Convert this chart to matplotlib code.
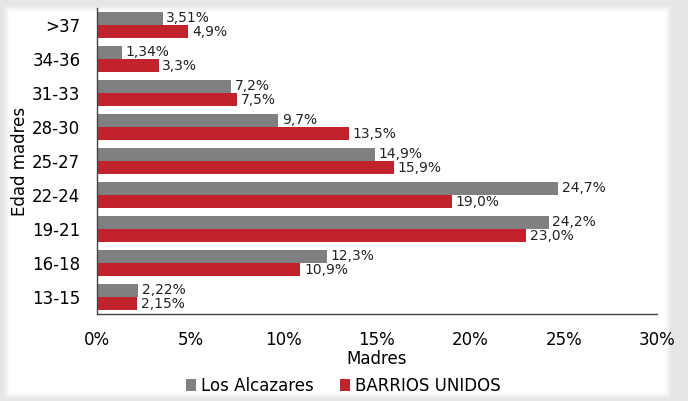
import numpy as np
import matplotlib
matplotlib.use("Agg")
import matplotlib.pyplot as plt
from matplotlib.patches import Rectangle
from matplotlib.ticker import FuncFormatter

# --- data (top to bottom as shown) ---
age_groups = [">37", "34-36", "31-33", "28-30", "25-27", "22-24", "19-21", "16-18", "13-15"]
alcazares = [3.51, 1.34, 7.2, 9.7, 14.9, 24.7, 24.2, 12.3, 2.22]
barrios = [4.9, 3.3, 7.5, 13.5, 15.9, 19.0, 23.0, 10.9, 2.15]
alcazares_txt = ["3,51%", "1,34%", "7,2%", "9,7%", "14,9%", "24,7%", "24,2%", "12,3%", "2,22%"]
barrios_txt = ["4,9%", "3,3%", "7,5%", "13,5%", "15,9%", "19,0%", "23,0%", "10,9%", "2,15%"]

GRAY = "#808083"
RED = "#c0232c"

plt.rcParams["font.family"] = ["DejaVu Sans"]

fig = plt.figure(figsize=(6.88, 4.01), dpi=100)
fig.patch.set_facecolor("#e6e6e6")

# white panel with a soft shadow edge, in its own background axes
W, H = 688, 401
bg = fig.add_axes([0, 0, 1, 1], zorder=0)
bg.set_xlim(0, W)
bg.set_ylim(H, 0)
bg.axis("off")
for i, a in enumerate([0.25, 0.45, 0.7, 1.0]):
    pad = (3 - i) * 2
    x0, y0, x1, y1 = 10 - pad, 12 - pad, 665 + pad, 392 + pad
    bg.add_patch(Rectangle((x0, y0), x1 - x0, y1 - y0, facecolor="white",
                           edgecolor="none", alpha=a))

ax = fig.add_axes([97 / W, 1 - 314 / H, (657 - 97) / W, (314 - 8) / H], zorder=2)
ax.set_facecolor("none")

y = np.arange(len(age_groups))
h = 0.38
ax.barh(y - h / 2, alcazares, height=h, color=GRAY, label="Los Alcazares")
ax.barh(y + h / 2, barrios, height=h, color=RED, label="BARRIOS UNIDOS")

for yi, v, t in zip(y, alcazares, alcazares_txt):
    ax.text(v + 0.2, yi - h / 2 - 0.03, t, va="center", ha="left", fontsize=10, color="#222222")
for yi, v, t in zip(y, barrios, barrios_txt):
    ax.text(v + 0.2, yi + h / 2 + 0.02, t, va="center", ha="left", fontsize=10, color="#222222")

ax.set_ylim(len(age_groups) - 0.5, -0.5)
ax.set_xlim(0, 30)
ax.set_yticks(y)
ax.set_yticklabels(age_groups, fontsize=12)
ax.set_xticks(np.arange(0, 31, 5))
ax.xaxis.set_major_formatter(FuncFormatter(lambda v, p: f"{v:.0f}%"))
ax.tick_params(axis="x", labelsize=12, length=0, pad=12)
ax.tick_params(axis="y", length=0, pad=12)

for s in ["top", "right"]:
    ax.spines[s].set_visible(False)
for s in ["left", "bottom"]:
    ax.spines[s].set_color("#444444")
    ax.spines[s].set_linewidth(1.0)

ax.set_xlabel("Madres", fontsize=12, labelpad=1)
ax.set_ylabel("Edad madres", fontsize=12, labelpad=2)

ax.legend(loc="center", bbox_to_anchor=(0.44, -0.235), ncol=2, frameon=False,
          fontsize=12, handlelength=0.6, handleheight=0.8, handletextpad=0.3,
          columnspacing=1.6)

fig.savefig("out.png", dpi=100, facecolor=fig.get_facecolor())
